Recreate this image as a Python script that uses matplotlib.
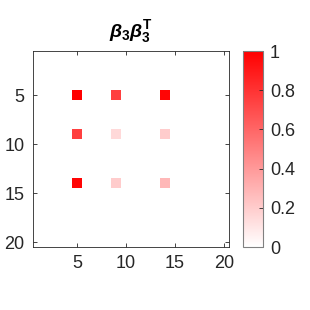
import numpy as np
import matplotlib
matplotlib.use("Agg")
import matplotlib.pyplot as plt
from matplotlib.colors import LinearSegmentedColormap

plt.rcParams["font.family"] = ["Liberation Sans", "DejaVu Sans"]
plt.rcParams["mathtext.fontset"] = "custom"
plt.rcParams["mathtext.rm"] = "Liberation Sans:bold"
plt.rcParams["mathtext.it"] = "Liberation Sans:italic:bold"
plt.rcParams["mathtext.bf"] = "Liberation Sans:bold"

n = 20
rows = [5, 5, 5, 9, 9, 9, 14, 14, 14]
cols = [5, 9, 14, 5, 9, 14, 5, 9, 14]
vals = [1.0, 0.75, 0.98, 0.75, 0.15, 0.2, 0.98, 0.2, 0.28]
ticks = [5, 10, 15, 20]
cbar_ticks = [0, 0.2, 0.4, 0.6, 0.8, 1]

mat = np.zeros((n, n))
for r, c, v in zip(rows, cols, vals):
    mat[r - 1, c - 1] = v

cmap = LinearSegmentedColormap.from_list("wr", ["#ffffff", "#ff0000"])

fig = plt.figure(figsize=(3.1, 3.1), dpi=100)
ax = fig.add_axes([33 / 310, 1 - 247 / 310, 196 / 310, 196 / 310])
im = ax.imshow(mat, cmap=cmap, vmin=0, vmax=1, interpolation="nearest",
               extent=[0.5, n + 0.5, n + 0.5, 0.5], aspect="auto")
ax.set_xticks(ticks)
ax.set_yticks(ticks)
ax.tick_params(direction="in", length=3, width=0.6, labelsize=13,
               top=True, right=True, colors="#262626", pad=6)
for s in ax.spines.values():
    s.set_color("#262626")
    s.set_linewidth(0.6)
ax.set_title(r"$\beta_3\beta_3^{\mathrm{T}}$", fontsize=14, color="#000000", pad=10)

cax = fig.add_axes([243 / 310, 1 - 247 / 310, 20 / 310, 196 / 310])
cb = fig.colorbar(im, cax=cax, ticks=cbar_ticks)
cb.ax.set_yticklabels(["0", "0.2", "0.4", "0.6", "0.8", "1"])
cb.ax.tick_params(direction="in", length=3, width=0.6, labelsize=13,
                  colors="#262626", pad=5)
cb.outline.set_edgecolor("#808080")
cb.outline.set_linewidth(0.8)

fig.savefig("out.png", dpi=100)
